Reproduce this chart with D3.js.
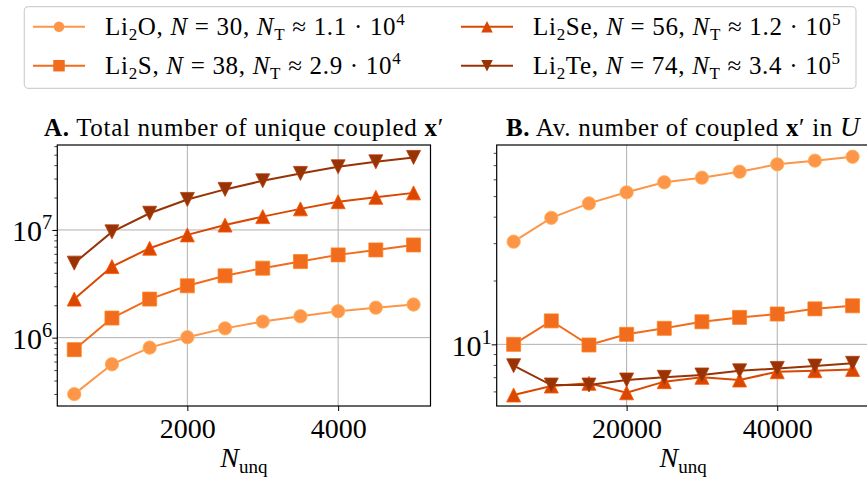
<!DOCTYPE html>
<html>
<head>
<meta charset="utf-8">
<script src="https://cdn.jsdelivr.net/npm/d3@7"></script>
<style>
body { margin: 0; background: #fff; }
svg text { font-family: "Liberation Serif", "DejaVu Serif", serif; fill: #000; }
</style>
</head>
<body>
<svg id="fig" width="867" height="483"></svg>
<script>
// values
var series_elements = ["O", "S", "Se", "Te"]
var series_N = [30, 38, 56, 74]
var series_NT = ["1.1", "2.9", "1.2", "3.4"]
var series_NT_exp = ["4", "4", "5", "5"]
var series_colors = ["#fd9649", "#f16c1c", "#d94801", "#983306"]
var series_symbols = ["circle", "square", "up", "down"]

// panel A: total number of unique coupled x'
var nunq_A = [500, 1000, 1500, 2000, 2500, 3000, 3500, 4000, 4500, 5000]
var total_Li2O = [2.99e5, 5.66e5, 8.08e5, 1.01e6, 1.22e6, 1.41e6, 1.58e6, 1.76e6, 1.90e6, 2.03e6]
var total_Li2S = [7.74e5, 1.52e6, 2.28e6, 3.03e6, 3.75e6, 4.42e6, 5.09e6, 5.87e6, 6.53e6, 7.26e6]
var total_Li2Se = [2.28e6, 4.57e6, 6.77e6, 9.0e6, 1.11e7, 1.33e7, 1.57e7, 1.83e7, 2.01e7, 2.21e7]
var total_Li2Te = [4.92e6, 9.6e6, 1.43e7, 1.92e7, 2.38e7, 2.86e7, 3.35e7, 3.86e7, 4.29e7, 4.71e7]

// panel B: average number of coupled x' in U
var nunq_B = [5000, 10000, 15000, 20000, 25000, 30000, 35000, 40000, 45000, 50000]
var avg_Li2O = [30.5, 39.5, 46.2, 52.1, 58.1, 61.1, 65.2, 70.6, 73.5, 76.7]
var avg_Li2S = [10.0, 12.9, 9.93, 11.15, 11.9, 12.78, 13.4, 13.9, 14.7, 15.2]
var avg_Li2Se = [5.77, 6.36, 6.55, 5.91, 6.67, 6.99, 6.79, 7.43, 7.51, 7.62]
var avg_Li2Te = [7.93, 6.43, 6.43, 6.79, 6.99, 7.17, 7.50, 7.70, 7.90, 8.14]

var ticks_A_x = [2000, 4000]
var ticks_A_y = [1e6, 1e7]
var minor_A_y = [3e5, 4e5, 5e5, 6e5, 7e5, 8e5, 9e5, 2e6, 3e6, 4e6, 5e6, 6e6, 7e6, 8e6, 9e6, 2e7, 3e7, 4e7, 5e7, 6e7]
var ticks_B_x = [20000, 40000]
var ticks_B_y = [10]
var minor_B_y = [6, 7, 8, 9, 20, 30, 40, 50, 60, 70, 80]

var svg = d3.select("#fig")

function marker_path(kind, s) {
    var h = s / 2
    if (kind == "circle") return d3.symbol().type(d3.symbolCircle).size(Math.PI * h * h)()
    if (kind == "square") return "M" + (-h) + "," + (-h) + "H" + h + "V" + h + "H" + (-h) + "Z"
    if (kind == "up") return "M0," + (-h) + "L" + h + "," + h + "L" + (-h) + "," + h + "Z"
    return "M0," + h + "L" + h + "," + (-h) + "L" + (-h) + "," + (-h) + "Z"
}

// superscript "10^k" label
function pow_label(sel, base, exp, size) {
    sel.append("tspan").text(base)
    sel.append("tspan").attr("dy", -size * 0.4).style("font-size", (size * 0.68) + "px").text(exp)
}

function draw_panel(p) {
    var x = d3.scaleLinear().domain(p.xdom).range([p.left, p.right])
    var y = d3.scaleLog().domain(p.ydom).range([p.bottom, p.top])
    var g = svg.append("g")

    // grid
    g.selectAll(".gx").data(p.xticks).enter().append("line")
        .attr("x1", d => x(d)).attr("x2", d => x(d))
        .attr("y1", p.top).attr("y2", p.bottom)
        .attr("stroke", "#b0b0b0").attr("stroke-width", 1)
    g.selectAll(".gy").data(p.yticks).enter().append("line")
        .attr("x1", p.left).attr("x2", p.right)
        .attr("y1", d => y(d)).attr("y2", d => y(d))
        .attr("stroke", "#b0b0b0").attr("stroke-width", 1)

    // series
    var clip_id = "clip" + p.name
    svg.append("clipPath").attr("id", clip_id).append("rect")
        .attr("x", p.left).attr("y", p.top - 8)
        .attr("width", p.right - p.left).attr("height", p.bottom - p.top + 16)
    var data_g = g.append("g").attr("clip-path", "url(#" + clip_id + ")")
    var line = d3.line().x(d => x(d[0])).y(d => y(d[1]))
    p.series.forEach(function(vals, i) {
        var pts = p.xs.map((xv, j) => [xv, vals[j]])
        data_g.append("path").datum(pts)
            .attr("d", line).attr("fill", "none")
            .attr("stroke", series_colors[i]).attr("stroke-width", 2)
        data_g.selectAll(".m" + i).data(pts).enter().append("path")
            .attr("transform", d => "translate(" + x(d[0]) + "," + y(d[1]) + ")")
            .attr("d", marker_path(series_symbols[i], series_symbols[i] == "circle" ? 13.4 : 14))
            .attr("fill", series_colors[i])
            .attr("stroke", d3.color(series_colors[i]).brighter(0.5))
            .attr("stroke-width", 0.8)
    })

    // axes
    g.append("g").attr("transform", "translate(0," + p.bottom + ")")
        .call(d3.axisBottom(x).tickValues(p.xticks).tickSize(5).tickPadding(7).tickFormat(d3.format("d")))
        .call(a => a.select(".domain").remove())
        .call(a => a.selectAll("text").style("font-size", "28px").style("font-family", "Liberation Serif"))
    g.append("g").attr("transform", "translate(" + p.left + ",0)")
        .call(d3.axisLeft(y).tickValues(p.minor).tickSize(3).tickFormat(""))
        .call(a => a.select(".domain").remove())
        .call(a => a.selectAll("line").attr("stroke", "#333").attr("stroke-width", 0.9))
    g.append("g").attr("transform", "translate(" + p.left + ",0)")
        .call(d3.axisLeft(y).tickValues(p.yticks).tickSize(5).tickFormat(""))
        .call(a => a.select(".domain").remove())
    g.selectAll(".ylab").data(p.yticks).enter().append("text")
        .attr("x", p.left - 5).attr("y", d => y(d) + 11.5)
        .attr("text-anchor", "end").style("font-size", "30px")
        .each(function(d) { pow_label(d3.select(this), "10", Math.round(Math.log10(d)), 30) })

    // spines
    g.append("rect").attr("x", p.left).attr("y", p.top)
        .attr("width", p.right - p.left).attr("height", p.bottom - p.top)
        .attr("fill", "none").attr("stroke", "#000").attr("stroke-width", 1.2)

    // x label N_unq
    var xl = g.append("text").attr("x", (p.left + p.right) / 2).attr("y", 467)
        .attr("text-anchor", "middle").style("font-size", "28px")
    xl.append("tspan").style("font-style", "italic").text("N")
    xl.append("tspan").attr("dy", 6).style("font-size", "19px").text("unq")

    // title
    var t = g.append("text").attr("x", (p.left + p.right) / 2).attr("y", 136)
        .attr("text-anchor", "middle").style("font-size", "25px").style("letter-spacing", "0.7px")
    p.title(t)
    return g
}

draw_panel({
    name: "A", xs: nunq_A, series: [total_Li2O, total_Li2S, total_Li2Se, total_Li2Te],
    xdom: [275, 5225], ydom: [2.32e5, 6.15e7],
    left: 57.3, right: 430.5, top: 145, bottom: 406,
    xticks: ticks_A_x, yticks: ticks_A_y, minor: minor_A_y,
    title: function(t) {
        t.append("tspan").style("font-weight", "bold").text("A.")
        t.append("tspan").text(" Total number of unique coupled ")
        t.append("tspan").style("font-weight", "bold").text("x")
        t.append("tspan").text("\u2032")
    }
})

draw_panel({
    name: "B", xs: nunq_B, series: [avg_Li2O, avg_Li2S, avg_Li2Se, avg_Li2Te],
    xdom: [2750, 52250], ydom: [5.12, 87.1],
    left: 496.7, right: 869.5, top: 145, bottom: 406,
    xticks: ticks_B_x, yticks: ticks_B_y, minor: minor_B_y,
    title: function(t) {
        t.append("tspan").style("font-weight", "bold").text("B.")
        t.append("tspan").text(" Av. number of coupled ")
        t.append("tspan").style("font-weight", "bold").text("x")
        t.append("tspan").text("\u2032 in ")
        t.append("tspan").style("font-style", "italic").style("font-size", "27px").text("U")
    }
})

// legend
function draw_legend() {
    var lg = svg.append("g")
    lg.append("rect").attr("x", 24.3).attr("y", 6.7).attr("width", 831.7).attr("height", 81.6)
        .attr("rx", 4).attr("fill", "#fff").attr("stroke", "#d0d0d0").attr("stroke-width", 1.2)
    var col_x = [33, 461], row_y = [26.7, 65.7]
    var order = [[0, 0], [0, 1], [1, 0], [1, 1]]
    series_elements.forEach(function(el, i) {
        var cx = col_x[order[i][0]], cy = row_y[order[i][1]]
        lg.append("line").attr("x1", cx).attr("x2", cx + 52).attr("y1", cy).attr("y2", cy)
            .attr("stroke", series_colors[i]).attr("stroke-width", 2)
        lg.append("path").attr("transform", "translate(" + (cx + 26) + "," + cy + ")")
            .attr("d", marker_path(series_symbols[i], series_symbols[i] == "circle" ? 10.5 : 11.5))
            .attr("fill", series_colors[i])
        var t = lg.append("text").attr("x", cx + 72).attr("y", cy + 8.5)
            .style("font-size", "25px").style("letter-spacing", "0.7px")
        t.append("tspan").text("Li")
        t.append("tspan").attr("dy", 5).style("font-size", "17px").text("2")
        t.append("tspan").attr("dy", -5).text(el + ", ")
        t.append("tspan").style("font-style", "italic").text("N")
        t.append("tspan").text(" = " + series_N[i] + ", ")
        t.append("tspan").style("font-style", "italic").text("N")
        t.append("tspan").attr("dy", 5).style("font-size", "17px").text("T")
        t.append("tspan").attr("dy", -5).text(" \u2248 " + series_NT[i] + " \u00B7 10")
        t.append("tspan").attr("dy", -10).style("font-size", "17px").text(series_NT_exp[i])
    })
}
draw_legend()
</script>
</body>
</html>
